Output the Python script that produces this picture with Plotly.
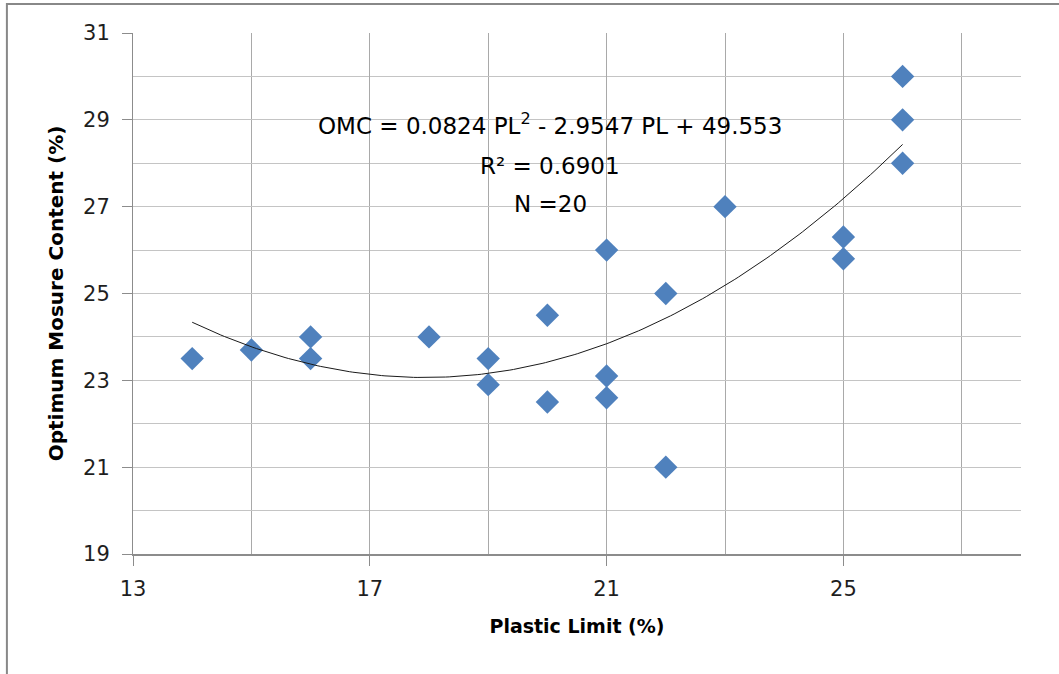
import numpy as np
import plotly.graph_objects as go

# Plastic limit vs optimum moisture content samples
plastic_limit = [14, 15, 16, 16, 18, 19, 19, 20, 20, 21, 21, 21, 22, 22, 23, 25, 25, 26, 26, 26]
omc = [23.5, 23.7, 24.0, 23.5, 24.0, 23.5, 22.9, 24.5, 22.5, 26.0, 23.1, 22.6, 25.0, 21.0,
       27.0, 26.3, 25.8, 30.0, 29.0, 28.0]

# Second-order polynomial trendline coefficients (a*PL^2 + b*PL + c)
coef_a, coef_b, coef_c = 0.0824, -2.9547, 49.553
r_squared = 0.6901

x_ticks = [13, 17, 21, 25]
y_ticks = [19, 21, 23, 25, 27, 29, 31]

pl_fit = np.linspace(min(plastic_limit), max(plastic_limit), 200)
omc_fit = coef_a * pl_fit ** 2 + coef_b * pl_fit + coef_c

FONT = "DejaVu Sans"
GRID_V = "#a9a9a9"
GRID_H = "#c4c4c4"

fig = go.Figure()
fig.add_trace(go.Scatter(
    x=plastic_limit, y=omc, mode="markers",
    marker=dict(symbol="diamond", size=18, color="#4f81bd", line=dict(width=0)),
    showlegend=False, hoverinfo="x+y",
))
fig.add_trace(go.Scatter(
    x=pl_fit, y=omc_fit, mode="lines",
    line=dict(color="#1a1a1a", width=1),
    showlegend=False, hoverinfo="skip",
))

fig.update_xaxes(
    range=[13, 28], tickmode="array", tickvals=x_ticks,
    ticktext=[str(v) for v in x_ticks],
    showgrid=True, gridcolor=GRID_V, gridwidth=1,
    minor=dict(dtick=2, tick0=13, showgrid=True, gridcolor=GRID_V, gridwidth=1, ticks=""),
    ticks="outside", ticklen=10, tickcolor="#8c8c8c", tickwidth=1,
    showline=True, linecolor="#8c8c8c", linewidth=2,
    zeroline=False,
    tickfont=dict(family=FONT, size=21, color="#1e1e1e"),
    ticklabelstandoff=5,
    title=dict(text="<b>Plastic Limit (%)</b>",
               font=dict(family=FONT, size=19, color="#000000"), standoff=19),
)
fig.update_yaxes(
    range=[19, 31], tickmode="array", tickvals=y_ticks,
    ticktext=[str(v) for v in y_ticks],
    showgrid=True, gridcolor=GRID_H, gridwidth=1,
    minor=dict(dtick=1, tick0=19, showgrid=True, gridcolor=GRID_H, gridwidth=1, ticks=""),
    ticks="outside", ticklen=10, tickcolor="#8c8c8c", tickwidth=1,
    showline=True, linecolor="#8c8c8c", linewidth=1,
    zeroline=False,
    tickfont=dict(family=FONT, size=21, color="#1e1e1e"),
    ticklabelstandoff=8,
    title=dict(text="<b>Optimum Mosure Content (%)</b>",
               font=dict(family=FONT, size=20, color="#000000"), standoff=14),
)

eq_font = dict(family=FONT, size=23, color="#000000")
fig.add_annotation(
    x=0.47, y=0.825, xref="paper", yref="paper", showarrow=False,
    text=f"OMC = {coef_a:.4f} PL<sup>2</sup> - {abs(coef_b):.4f} PL + {coef_c:.3f}",
    font=eq_font, xanchor="center", yanchor="middle",
)
fig.add_annotation(
    x=0.47, y=0.745, xref="paper", yref="paper", showarrow=False,
    text=f"R² = {r_squared:.4f}", font=eq_font, xanchor="center", yanchor="middle",
)
fig.add_annotation(
    x=0.47, y=0.672, xref="paper", yref="paper", showarrow=False,
    text=f"N ={len(plastic_limit)}", font=eq_font, xanchor="center", yanchor="middle",
)

# Chart frame (top and left edges visible)
fig.add_shape(type="rect", xref="paper", yref="paper",
              x0=-0.142, y0=-1.0, x1=2.0, y1=1.0557,
              line=dict(color="#888888", width=2), fillcolor="rgba(0,0,0,0)", layer="above")

fig.update_layout(
    width=1059, height=674,
    margin=dict(l=133, r=38, t=33, b=120),
    paper_bgcolor="white", plot_bgcolor="white",
)

fig.write_html("out.html")
